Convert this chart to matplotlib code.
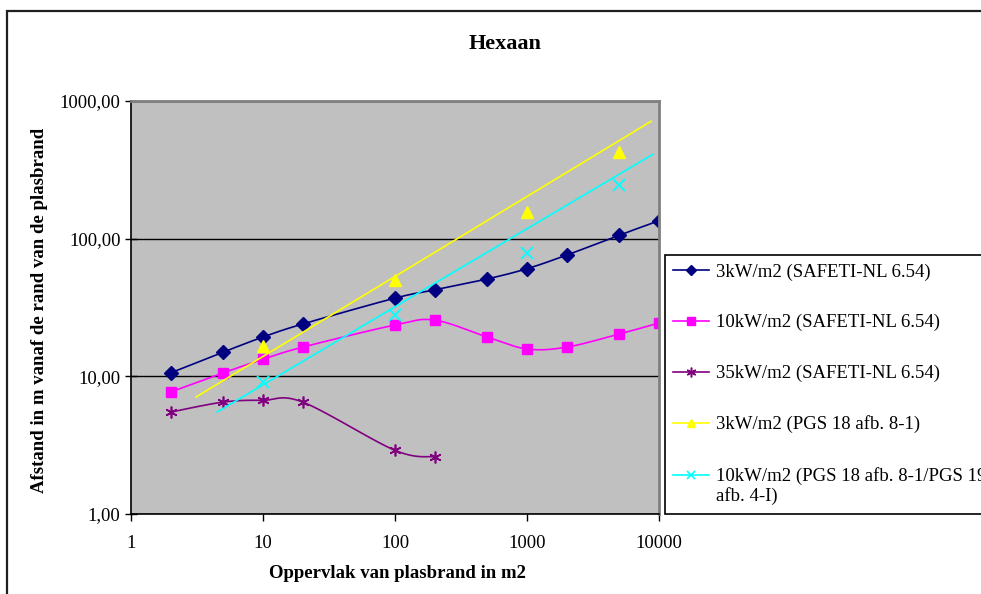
"""
Hexaan: afstand tot de rand van een plasbrand, log-log grafiek.
"""

import numpy as np
import matplotlib
matplotlib.use('Agg')
import matplotlib.pyplot as plt
from matplotlib.patches import Rectangle
from matplotlib.legend_handler import HandlerLine2D
from matplotlib.transforms import Affine2D

# kleuren (Excel palet)
NAVY = '#000080'
MAGENTA = '#FF00FF'
PURPLE = '#800080'
YELLOW = '#FFFF00'
CYAN = '#00FFFF'
PLOT_BG = '#C0C0C0'

# data
area = [2, 5, 10, 20, 100, 200, 500, 1000, 2000, 5000, 10000]
kw3_safeti = [10.6, 15.0, 19.3, 24.0, 37.0, 42.5, 51.0, 60.5, 76.0, 106.0, 135.0]
kw10_safeti = [7.7, 10.6, 13.3, 16.3, 23.6, 25.6, 19.3, 15.8, 16.3, 20.3, 24.4]

area_35 = [2, 5, 10, 20, 100, 200]
kw35_safeti = [5.5, 6.5, 6.7, 6.5, 2.9, 2.6]

area_pgs = [10, 100, 1000, 5000]
kw3_pgs = [16.6, 50.0, 156.0, 425.0]
kw10_pgs = [9.1, 27.9, 78.6, 245.0]

trend3 = dict(a=3.66, b=0.581, x0=3.1, x1=8700)
trend10 = dict(a=2.35, b=0.567, x0=4.5, x1=9000)

x_ticks = [1, 10, 100, 1000, 10000]
x_labels = ['1', '10', '100', '1000', '10000']
y_ticks = [1, 10, 100, 1000]
y_labels = ['1,00', '10,00', '100,00', '1000,00']

LABELS = ['3kW/m2 (SAFETI-NL 6.54)',
          '10kW/m2 (SAFETI-NL 6.54)',
          '35kW/m2 (SAFETI-NL 6.54)',
          '3kW/m2 (PGS 18 afb. 8-1)',
          '10kW/m2 (PGS 18 afb. 8-1/PGS 19\nafb. 4-I)']

FS = 13.5


def smooth(xs, ys, n=20):
    """Catmull-Rom spline in log-log ruimte (zoals Excel 'vloeiende lijn')."""
    lx = np.log10(xs)
    ly = np.log10(ys)
    px = np.concatenate([[lx[0]], lx, [lx[-1]]])
    py = np.concatenate([[ly[0]], ly, [ly[-1]]])
    outx, outy = [], []
    t = np.linspace(0, 1, n)
    for i in range(1, len(px) - 2):
        p0x, p1x, p2x, p3x = px[i - 1:i + 3]
        p0y, p1y, p2y, p3y = py[i - 1:i + 3]
        # bezier controlepunten
        c1x = p1x + (p2x - p0x) / 6
        c1y = p1y + (p2y - p0y) / 6
        c2x = p2x - (p3x - p1x) / 6
        c2y = p2y - (p3y - p1y) / 6
        bx = ((1 - t) ** 3 * p1x + 3 * (1 - t) ** 2 * t * c1x
              + 3 * (1 - t) * t ** 2 * c2x + t ** 3 * p2x)
        by = ((1 - t) ** 3 * p1y + 3 * (1 - t) ** 2 * t * c1y
              + 3 * (1 - t) * t ** 2 * c2y + t ** 3 * p2y)
        outx.extend(bx)
        outy.extend(by)
    return 10 ** np.array(outx), 10 ** np.array(outy)


class HandlerTopLine(HandlerLine2D):
    """Legendasymbool uitlijnen op de eerste tekstregel."""

    def __init__(self, dy, **kw):
        super().__init__(**kw)
        self.dy = dy

    def create_artists(self, legend, orig_handle, xdescent, ydescent,
                       width, height, fontsize, trans):
        arts = super().create_artists(legend, orig_handle, xdescent, ydescent,
                                      width, height, fontsize, trans)
        for a in arts:
            a.set_transform(Affine2D().translate(0, self.dy) + trans)
        return arts


plt.rcParams['font.family'] = ['Liberation Serif', 'DejaVu Serif']

fig = plt.figure(figsize=(9.81, 5.94), dpi=100)
ax = fig.add_axes([131 / 981, 1 - 514 / 594, 528 / 981, 413 / 594])
ax.set_facecolor(PLOT_BG)

# buitenrand van de grafiek
fig.patches.append(Rectangle((7 / 981, -0.1), 1.1, 1 - 11 / 594 + 0.1,
                             transform=fig.transFigure, fill=False,
                             edgecolor='#202020', linewidth=1.6))

sx, sy = smooth(area, kw3_safeti)
ax.plot(sx, sy, color=NAVY, lw=1.2)
ax.plot(area, kw3_safeti, ls='none', marker='D', ms=7, color=NAVY)
h1, = ax.plot([], [], color=NAVY, lw=1.2, marker='D', ms=5)

sx, sy = smooth(area, kw10_safeti)
ax.plot(sx, sy, color=MAGENTA, lw=1.2)
ax.plot(area, kw10_safeti, ls='none', marker='s', ms=7, color=MAGENTA)
h2, = ax.plot([], [], color=MAGENTA, lw=1.2, marker='s', ms=5.5)

sx, sy = smooth(area_35, kw35_safeti)
ax.plot(sx, sy, color=PURPLE, lw=1.2)
ax.plot(area_35, kw35_safeti, ls='none', marker=(6, 2, 0), ms=8.5, mew=1.2,
        color=PURPLE)
h3, = ax.plot([], [], color=PURPLE, lw=1.2, marker=(6, 2, 0), ms=7, mew=1.1)

# PGS 18 punten en trendlijnen
for tr, col in ((trend3, YELLOW), (trend10, CYAN)):
    tx = np.logspace(np.log10(tr['x0']), np.log10(tr['x1']), 50)
    ax.plot(tx, tr['a'] * tx ** tr['b'], color=col, lw=1.2)
ax.plot(area_pgs, kw3_pgs, ls='none', marker='^', ms=8, color=YELLOW)
ax.plot(area_pgs, kw10_pgs, ls='none', marker='x', ms=8, mew=1.3, color=CYAN)
h4, = ax.plot([], [], color=YELLOW, lw=1.2, marker='^', ms=6)
h5, = ax.plot([], [], color=CYAN, lw=1.2, marker='x', ms=6, mew=1.2)

ax.set_xscale('log')
ax.set_yscale('log')
ax.set_xlim(1, 10000)
ax.set_ylim(1, 1000)
ax.set_xticks(x_ticks, x_labels)
ax.set_yticks(y_ticks, y_labels)
ax.minorticks_off()
ax.tick_params(axis='x', direction='out', length=5, width=1, pad=10,
               labelsize=FS, color='black')
ax.tick_params(axis='y', direction='inout', length=9, width=1, pad=3,
               labelsize=FS, color='black')
ax.grid(axis='y', color='black', lw=1)
ax.set_axisbelow(True)

for side in ('top', 'right'):
    ax.spines[side].set_color('#808080')
    ax.spines[side].set_linewidth(2)
for side in ('left', 'bottom'):
    ax.spines[side].set_color('black')
    ax.spines[side].set_linewidth(1.2)

fig.text(505 / 981, 1 - 44 / 594, 'Hexaan', ha='center', va='center',
         fontsize=16, fontweight='bold')
fig.text(397 / 981, 1 - 574 / 594, 'Oppervlak van plasbrand in m2',
         ha='center', va='center', fontsize=FS, fontweight='bold')
fig.text(40 / 981, 1 - 310 / 594, 'Afstand in m vanaf de rand van de plasbrand',
         ha='center', va='center', rotation=90, fontsize=FS, fontweight='bold')

# legenda loopt, net als in het origineel, over de rechterrand door
leg = fig.legend([h1, h2, h3, h4, h5], LABELS,
                 loc='upper left', bbox_to_anchor=(665 / 981, 1 - 255 / 594),
                 bbox_transform=fig.transFigure, borderaxespad=0,
                 fontsize=FS, frameon=True, fancybox=False,
                 edgecolor='black', facecolor='white', framealpha=1,
                 handlelength=1.9, handletextpad=0.35, labelspacing=1.78,
                 borderpad=0.45,
                 handler_map={h5: HandlerTopLine(dy=0.6 * FS)})
leg.get_frame().set_linewidth(1.2)

fig.savefig('out.png', dpi=100)
